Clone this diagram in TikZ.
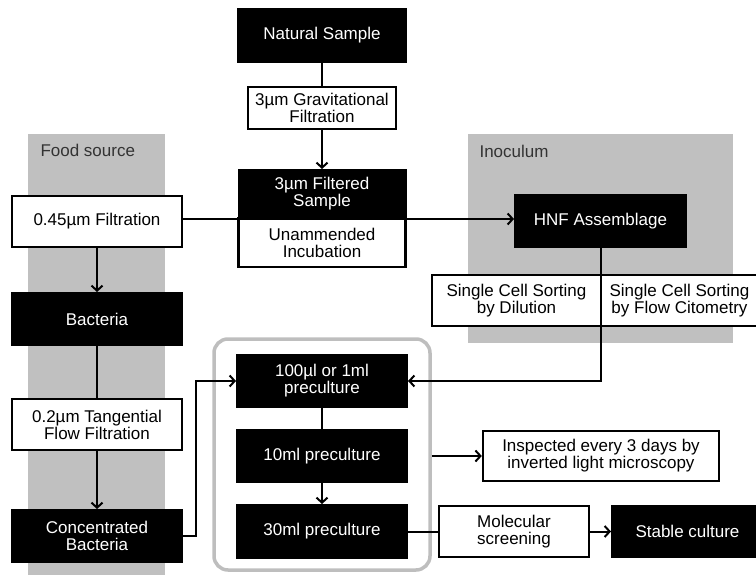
\documentclass[tikz,border=0pt]{standalone}
\usepackage{fontspec}
\setmainfont{Liberation Sans}
\usetikzlibrary{arrows.meta}
\usetikzlibrary{positioning}
\definecolor{areagrey}{RGB}{192,192,192}
\definecolor{framegrey}{RGB}{190,190,190}

\begin{document}
\begin{tikzpicture}[x=1pt,y=-1pt,
  font=\fontsize{17}{17}\selectfont,
  >={Straight Barb[length=5pt,width=11pt]},
  blackbox/.style={rectangle,draw=black,fill=black,text=white,line width=2pt,align=center,inner sep=1pt},
  whitebox/.style={rectangle,draw=black,fill=white,line width=2.4pt,align=center,inner sep=1pt},
  greyarea/.style={rectangle,fill=areagrey,draw=none},
  link/.style={line width=2pt}]
\clip (0,0) rectangle (756,575);
% shaded areas
\node[greyarea,minimum width=137pt,minimum height=441pt](food) at (96.5,354.5){};
\node[greyarea,minimum width=265pt,minimum height=209pt](inoc) at (600.5,238.5){};
\node[anchor=west,text=black!80](foodlabel) at (37,150){Food source};
\node[anchor=west,text=black!80](inoclabel) at (476,151){Inoculum};
% middle column
\node[blackbox,minimum width=168pt,minimum height=53pt](nat) at (322,35.5){Natural Sample};
\node[whitebox,minimum width=148pt,minimum height=42pt,below of=nat,node distance=72.5pt](grav){3µm Gravitational\\Filtration};
\node[blackbox,minimum width=167pt,minimum height=48pt,below of=grav,node distance=86pt](filt){3µm Filtered\\Sample};
\node[whitebox,minimum width=167pt,minimum height=49pt,below of=filt,node distance=48.5pt](incub){Unammended\\Incubation};
% food source
\node[whitebox,minimum width=170pt,minimum height=51pt](f045) at (97,221.5){0.45µm Filtration};
\node[blackbox,minimum width=170pt,minimum height=52pt,below of=f045,node distance=97.5pt](bact){Bacteria};
\node[whitebox,minimum width=170pt,minimum height=51pt,below of=bact,node distance=105.5pt](tang){0.2µm Tangential\\Flow Filtration};
\node[blackbox,minimum width=170pt,minimum height=52pt,below of=tang,node distance=111.5pt](conc){Concentrated\\Bacteria};
% inoculum
\node[blackbox,minimum width=171pt,minimum height=52pt](hnf) at (600.5,221){HNF Assemblage};
\node[whitebox,minimum width=169pt,minimum height=51pt](dil) at (516.5,300.5){Single Cell Sorting\\by Dilution};
\node[whitebox,minimum width=157pt,minimum height=51pt,right of=dil,node distance=163pt](flow){Single Cell Sorting\\by Flow Citometry};
% precultures
\node[rectangle,rounded corners=14pt,draw=framegrey,line width=3.5pt,minimum width=216pt,minimum height=231pt](grp) at (322,454.5){};
\node[blackbox,minimum width=170pt,minimum height=52pt](pre1) at (322,381){100µl or 1ml\\preculture};
\node[blackbox,minimum width=170pt,minimum height=52pt,below of=pre1,node distance=75pt](pre10){10ml preculture};
\node[blackbox,minimum width=170pt,minimum height=53pt,below of=pre10,node distance=75.5pt](pre30){30ml preculture};
\node[whitebox,minimum width=236pt,minimum height=50pt](insp) at (601,456){Inspected every 3 days by\\inverted light microscopy};
\node[whitebox,minimum width=150pt,minimum height=51pt](mol) at (514,531.5){Molecular\\screening};
\node[blackbox,minimum width=151pt,minimum height=51pt,right of=mol,node distance=173.5pt](stab){Stable culture};
% connectors
\draw[link](nat)--(grav);
\draw[link,->](grav)--(filt);
\draw[link,->](f045.east |- filt.south)--(hnf.west |- filt.south);
\draw[link,->](f045)--(bact);
\draw[link](bact)--(tang);
\draw[link,->](tang)--(conc);
\draw[link,->](conc.east)--++(13,0)|-(pre1.west);
\draw[link,->](hnf)|-(pre1.east);
\draw[link](pre1)--(pre10);
\draw[link,->](pre10)--(pre30);
\draw[link,->](grp.east |- insp.west)--(insp.west);
\draw[link](pre30)--(mol);
\draw[link,->](mol)--(stab);
\end{tikzpicture}
\end{document}
